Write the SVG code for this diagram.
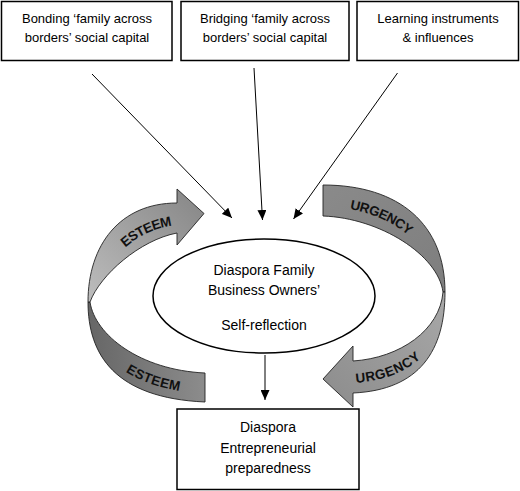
<svg xmlns="http://www.w3.org/2000/svg" width="520" height="491" viewBox="0 0 520 491">
<style>
.box{fill:#fff;stroke:#000;stroke-width:1.5}
.t{font-family:"Liberation Sans",Arial,sans-serif;font-size:13px;fill:#000;text-anchor:middle}
.tc{font-family:"Liberation Sans",Arial,sans-serif;font-size:14px;fill:#000;text-anchor:middle}
.band{stroke:#222;stroke-width:0.9;stroke-linejoin:round}
.bl{font-family:"Liberation Sans",Arial,sans-serif;font-size:13.5px;font-weight:bold;fill:#111}
.con{stroke:#000;stroke-width:1;fill:none;marker-end:url(#ah)}
</style>
<defs>
<marker id="ah" markerUnits="userSpaceOnUse" markerWidth="10" markerHeight="9" refX="10" refY="4.5" orient="auto" viewBox="0 0 10 9">
<path d="M0,0 L10,4.5 L0,9 z" fill="#000"/>
</marker>
<linearGradient id="gEu" x1="0" y1="1" x2="1" y2="0">
<stop offset="0" stop-color="#bdbdbd"/><stop offset="1" stop-color="#858585"/>
</linearGradient>
<linearGradient id="gEl" x1="0" y1="0" x2="1" y2="0">
<stop offset="0" stop-color="#666"/><stop offset="1" stop-color="#8c8c8c"/>
</linearGradient>
<linearGradient id="gUu" x1="0" y1="0" x2="1" y2="1">
<stop offset="0" stop-color="#8a8a8a"/><stop offset="1" stop-color="#7e7e7e"/>
</linearGradient>
<linearGradient id="gUl" x1="1" y1="0" x2="0" y2="1">
<stop offset="0" stop-color="#a8a8a8"/><stop offset="1" stop-color="#8c8c8c"/>
</linearGradient>
<path id="pEu" d="M89,302 C94,260 130,221.5 177,218"/>
<path id="pEl" d="M89,302 C91.5,345 127.5,384 205,387.5"/>
<path id="pUu" d="M323,200.5 C390,201.5 441.5,240 444,292"/>
<path id="pUl" d="M353,377 C410,374 442.5,340 444,292"/>
</defs>

<g id="esteem-loop">
<path class="band" fill="url(#gEl)" d="M88,302 C88,355 115,398 205,402 L205,373 C140,370 95,335 90,302 Z"/>
<path class="band" fill="url(#gEu)" d="M177,203 L177,189 L204,213.5 L177,245 L177,233 C140,240 100,275 90,302 L88,302 C88,245 120,203 177,203 Z"/>
<text class="bl" dominant-baseline="central" dy="2"><textPath href="#pEu" startOffset="74%" text-anchor="middle">ESTEEM</textPath></text>
<text class="bl" dominant-baseline="central" dy="1"><textPath href="#pEl" startOffset="67%" text-anchor="middle">ESTEEM</textPath></text>
</g>

<g id="urgency-loop">
<path class="band" fill="url(#gUu)" d="M323,185 C400,185 445,225 445,292 L443,292 C438,255 380,218 323,216 Z"/>
<path class="band" fill="url(#gUl)" d="M445,292 C445,350 420,390 353,393 L353,407 L323,379 L353,346 L353,361 C400,358 440,330 443,292 Z"/>
<text class="bl" dominant-baseline="central" dy="1"><textPath href="#pUu" startOffset="37%" text-anchor="middle">URGENCY</textPath></text>
<text class="bl" dominant-baseline="central" dy="1"><textPath href="#pUl" startOffset="26%" text-anchor="middle">URGENCY</textPath></text>
</g>

<g id="bonding">
<rect class="box" x="1.5" y="1.5" width="170.5" height="59"/>
<text class="t" x="87" y="23">Bonding ‘family across</text>
<text class="t" x="87" y="42">borders’ social capital</text>
</g>
<g id="bridging">
<rect class="box" x="181" y="1.5" width="168" height="59"/>
<text class="t" x="265" y="23">Bridging ‘family across</text>
<text class="t" x="265" y="42">borders’ social capital</text>
</g>
<g id="learning">
<rect class="box" x="357" y="1.5" width="161.5" height="59"/>
<text class="t" x="438" y="23">Learning instruments</text>
<text class="t" x="438" y="42">&amp; influences</text>
</g>

<g id="self-reflection">
<ellipse cx="264" cy="296" rx="111" ry="57" fill="#fff" stroke="#000" stroke-width="1.5"/>
<text class="tc" x="264" y="275">Diaspora Family</text>
<text class="tc" x="264" y="295">Business Owners’</text>
<text class="tc" x="264" y="330">Self-reflection</text>
</g>

<g id="preparedness">
<rect class="box" x="177" y="409" width="182" height="80.5"/>
<text class="tc" x="268" y="432">Diaspora</text>
<text class="tc" x="268" y="453">Entrepreneurial</text>
<text class="tc" x="268" y="473">preparedness</text>
</g>

<g id="connectors">
<line class="con" x1="92" y1="74" x2="232" y2="218"/>
<line class="con" x1="254" y1="68" x2="262.5" y2="220"/>
<line class="con" x1="397.5" y1="73" x2="293.5" y2="219"/>
<line class="con" x1="265" y1="355" x2="265" y2="400"/>
</g>
</svg>
